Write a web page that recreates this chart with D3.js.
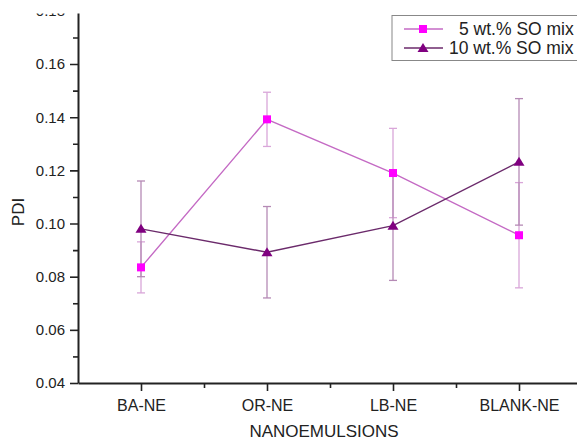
<!DOCTYPE html>
<html><head><meta charset="utf-8">
<script src="https://cdn.jsdelivr.net/npm/d3@7"></script>
<style>body{margin:0;background:#fff}svg{display:block}text{font-family:Arial,"Liberation Sans",sans-serif}</style>
</head><body><svg id="c" width="577" height="442"></svg>
<script>
const categories = ["BA-NE","OR-NE","LB-NE","BLANK-NE"];
const seriesNames = ["5 wt.% SO mix","10 wt.% SO mix"];
const so5 = [0.0835, 0.1392, 0.1190, 0.0956];
const so5Err = [0.0096, 0.0102, 0.0168, 0.0198];
const so10 = [0.0980, 0.0892, 0.0992, 0.1232];
const so10Err = [0.0180, 0.0172, 0.0206, 0.0238];
const yMajor = [0.04,0.06,0.08,0.10,0.12,0.14,0.16,0.18];
const yMinor = [0.05,0.07,0.09,0.11,0.13,0.15,0.17];

const svg = d3.select("#c");
const x = d3.scaleLinear().domain([0.5, 4.5]).range([78, 582]);
const y = d3.scaleLinear().domain([0.04, 0.18]).range([383, 10.9]);
const FONT = "Arial, 'Liberation Sans', sans-serif";

const defs = svg.append("defs");
defs.append("clipPath").attr("id","clipTop").append("rect").attr("x",0).attr("y",13.5).attr("width",577).attr("height",440);

// Y axis
const gy = svg.append("g").attr("clip-path","url(#clipTop)");
gy.append("g").attr("transform","translate(78,0)")
  .call(d3.axisLeft(y).tickValues(yMinor).tickSize(5).tickFormat(""))
  .call(g=>g.select(".domain").remove())
  .call(g=>g.selectAll("line").attr("stroke","#222").attr("stroke-width",1.6));
const ya = gy.append("g").attr("transform","translate(78,0)")
  .call(d3.axisLeft(y).tickValues(yMajor).tickSize(8).tickSizeOuter(0).tickPadding(5).tickFormat(d3.format(".2f")));
ya.select(".domain").attr("stroke","#222").attr("stroke-width",2);
ya.selectAll("line").attr("stroke","#222").attr("stroke-width",1.6);
ya.selectAll("text").attr("font-size",15).attr("fill","#222").style("font-family",FONT);

// X axis
const xMinor = [1.5,2.5,3.5];
svg.append("g").attr("transform","translate(0,383)")
  .call(d3.axisBottom(x).tickValues(xMinor).tickSize(5).tickFormat(""))
  .call(g=>g.select(".domain").remove())
  .call(g=>g.selectAll("line").attr("stroke","#222").attr("stroke-width",1.6));
const xa = svg.append("g").attr("transform","translate(0,383)")
  .call(d3.axisBottom(x).tickValues([1,2,3,4]).tickSize(8).tickSizeOuter(0).tickPadding(9).tickFormat((d,i)=>categories[i]));
xa.select(".domain").attr("stroke","#222").attr("stroke-width",2);
xa.selectAll("line").attr("stroke","#222").attr("stroke-width",1.6);
xa.selectAll("text").attr("font-size",16).attr("fill","#222").style("font-family",FONT);

// Axis titles
svg.append("text").attr("x",324).attr("y",437).attr("text-anchor","middle").attr("font-size",17).attr("fill","#222").text("NANOEMULSIONS");
svg.append("text").attr("transform","translate(24,212) rotate(-90)").attr("text-anchor","middle").attr("font-size",17).attr("fill","#222").text("PDI");

const series = [
  {vals: so5, err: so5Err, line:"#c46ac4", errC:"#d9a6d9", fill:"#ff00ff", shape:"square"},
  {vals: so10, err: so10Err, line:"#6b2a6b", errC:"#b58ab5", fill:"#800080", shape:"triangle"}
];
const idx = [1,2,3,4];

// error bars
series.forEach(s=>{
  const g = svg.append("g").attr("stroke",s.errC).attr("stroke-width",1.3).attr("fill","none");
  idx.forEach((k,i)=>{
    const cx = x(k), t = y(s.vals[i]+s.err[i]), b = y(s.vals[i]-s.err[i]);
    g.append("line").attr("x1",cx).attr("x2",cx).attr("y1",t).attr("y2",b);
    g.append("line").attr("x1",cx-4).attr("x2",cx+4).attr("y1",t).attr("y2",t);
    g.append("line").attr("x1",cx-4).attr("x2",cx+4).attr("y1",b).attr("y2",b);
  });
});
// lines
series.forEach(s=>{
  svg.append("path").datum(s.vals).attr("fill","none").attr("stroke",s.line).attr("stroke-width",1.4)
    .attr("d", d3.line().x((d,i)=>x(idx[i])).y(d=>y(d)));
});
// markers
function marker(g, shape, cx, cy, fill){
  if(shape==="square") g.append("rect").attr("x",cx-4).attr("y",cy-4).attr("width",8).attr("height",8).attr("fill",fill);
  else g.append("path").attr("d",`M${cx},${cy-5}L${cx+5.5},${cy+4}L${cx-5.5},${cy+4}Z`).attr("fill",fill);
}
series.forEach(s=>{
  const g = svg.append("g");
  s.vals.forEach((v,i)=>marker(g, s.shape, x(idx[i]), y(v), s.fill));
});

// legend
const lg = svg.append("g");
lg.append("rect").attr("x",392).attr("y",15.5).attr("width",200).attr("height",45).attr("fill","#fff").attr("stroke","#888").attr("stroke-width",1);
series.forEach((s,i)=>{
  const yy = 29 + i*19;
  lg.append("line").attr("x1",404).attr("x2",443).attr("y1",yy).attr("y2",yy).attr("stroke",s.line).attr("stroke-width",1.4);
  marker(lg, s.shape, 423, yy, s.fill);
  lg.append("text").attr("x", i===0 ? 459 : 449).attr("y",yy+6).attr("font-size",17.5).attr("fill","#222").text(seriesNames[i]);
});
</script></body></html>
